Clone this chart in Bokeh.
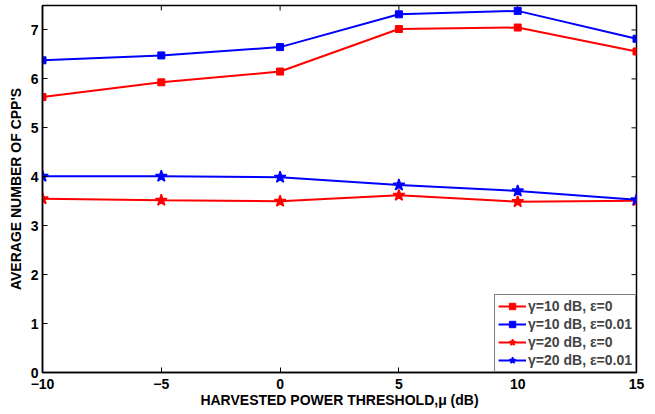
import math
from bokeh.plotting import figure
from bokeh.models import Legend, LegendItem, FixedTicker, Range1d
from bokeh.embed import file_html
from bokeh.resources import INLINE

x_vals = [-10, -5, 0, 5, 10, 15]
g10_e0 = [5.63, 5.93, 6.15, 7.02, 7.05, 6.56]
g10_e001 = [6.38, 6.48, 6.65, 7.32, 7.39, 6.82]
g20_e0 = [3.55, 3.52, 3.50, 3.62, 3.49, 3.51]
g20_e001 = [4.01, 4.01, 3.99, 3.83, 3.71, 3.53]

x_ticks = [-10, -5, 0, 5, 10, 15]
x_tick_labels = ["\u221210", "\u22125", "0", "5", "10", "15"]
y_ticks = [0, 1, 2, 3, 4, 5, 6, 7]
x_lo, x_hi = -10, 15
y_lo, y_hi = 0, 7.5

labels = ["\u03b3=10 dB, \u03b5=0", "\u03b3=10 dB, \u03b5=0.01",
          "\u03b3=20 dB, \u03b5=0", "\u03b3=20 dB, \u03b5=0.01"]

FONT = "Liberation Sans"

p = figure(width=647, height=410, output_backend="svg", toolbar_location=None,
           x_range=Range1d(x_lo, x_hi), y_range=Range1d(y_lo, y_hi),
           min_border_left=42, min_border_right=11, min_border_top=5, min_border_bottom=30)
p.grid.visible = False
p.outline_line_color = "black"
p.outline_line_width = 1.5

def style_axis(ax):
    ax.major_tick_in = 5
    ax.major_tick_out = 0
    ax.minor_tick_in = 0
    ax.minor_tick_out = 0
    ax.axis_line_color = "black"
    ax.axis_line_width = 1.5
    ax.major_tick_line_color = "black"
    ax.major_label_text_font = FONT
    ax.major_label_text_font_style = "bold"
    ax.major_label_text_font_size = "14px"
    ax.major_label_text_color = "black"
    ax.axis_label_text_font = FONT
    ax.axis_label_text_font_style = "bold"
    ax.axis_label_text_font_size = "14px"
    ax.axis_label_text_color = "black"

xa = p.xaxis[0]
xa.ticker = FixedTicker(ticks=x_ticks)
xa.major_label_overrides = {t: l for t, l in zip(x_ticks, x_tick_labels)}
xa.axis_label = "HARVESTED POWER THRESHOLD,\u03bc (dB)"
style_axis(xa)
xa.major_label_standoff = 6
xa.axis_label_standoff = 0

ya = p.yaxis[0]
ya.ticker = FixedTicker(ticks=y_ticks)
ya.axis_label = "AVERAGE NUMBER OF CPP'S"
style_axis(ya)
ya.major_label_standoff = 4
ya.axis_label_standoff = 4

# inward ticks on the top and right edges (MATLAB box style)
p.ray(x=x_ticks, y=[y_hi] * len(x_ticks), length=5, length_units="screen",
      angle=-math.pi / 2, line_color="black", line_width=1)
p.ray(x=[x_hi] * len(y_ticks), y=y_ticks, length=5, length_units="screen",
      angle=math.pi, line_color="black", line_width=1)

r1l = p.line(x_vals, g10_e0, line_color="red", line_width=2)
r1m = p.scatter(x_vals, g10_e0, marker="square", size=7, color="red")
r2l = p.line(x_vals, g10_e001, line_color="blue", line_width=2)
r2m = p.scatter(x_vals, g10_e001, marker="square", size=7, color="blue")
r3l = p.line(x_vals, g20_e0, line_color="red", line_width=2)
r3m = p.scatter(x_vals, g20_e0, marker="star", size=12, color="red", line_width=1.5)
r4l = p.line(x_vals, g20_e001, line_color="blue", line_width=2)
r4m = p.scatter(x_vals, g20_e001, marker="star", size=12, color="blue", line_width=1.5)

legend = Legend(items=[
    LegendItem(label=labels[0], renderers=[r1l, r1m]),
    LegendItem(label=labels[1], renderers=[r2l, r2m]),
    LegendItem(label=labels[2], renderers=[r3l, r3m]),
    LegendItem(label=labels[3], renderers=[r4l, r4m]),
], location="bottom_right")
legend.margin = 0
legend.padding = 3
legend.spacing = 2
legend.glyph_width = 28
legend.glyph_height = 16
legend.label_height = 16
legend.label_standoff = 2
legend.label_text_font = FONT
legend.label_text_font_style = "bold"
legend.label_text_font_size = "14px"
legend.border_line_color = "black"
legend.border_line_width = 1.5
legend.background_fill_alpha = 1
p.add_layout(legend)

open("out.html", "w").write(file_html(p, INLINE))
